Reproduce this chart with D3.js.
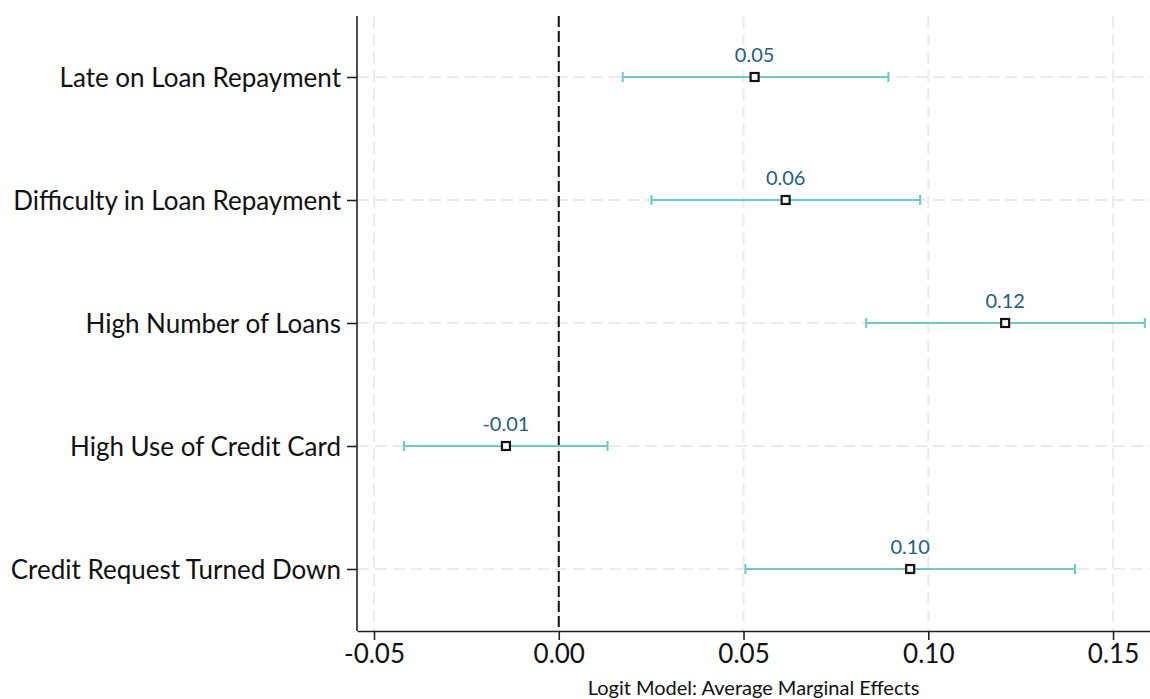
<!DOCTYPE html>
<html>
<head>
<meta charset="utf-8">
<script src="https://cdn.jsdelivr.net/npm/d3@7"></script>
<style>
  body { margin: 0; background: #fff; }
  svg { font-family: Lato, "Open Sans", sans-serif; }
</style>
</head>
<body>
<script>
// data
var categories = ["Late on Loan Repayment", "Difficulty in Loan Repayment", "High Number of Loans",
                  "High Use of Credit Card", "Credit Request Turned Down"];
var estimates = [0.053, 0.0614, 0.1208, -0.0143, 0.0951];
var lower = [0.0173, 0.0251, 0.0832, -0.0419, 0.0505];
var upper = [0.0892, 0.0978, 0.1586, 0.0132, 0.1397];
var labels = ["0.05", "0.06", "0.12", "-0.01", "0.10"];
var xTicks = [-0.05, 0, 0.05, 0.10, 0.15];

var w = 1150, h = 699;
var pLeft = 357, pRight = 1150, pTop = 16, pBottom = 631;

var svg = d3.select("body").append("svg")
    .attr("width", w)
    .attr("height", h);

var x = d3.scaleLinear().domain([-0.0546, 0.16]).range([pLeft, pRight]);
var y = d3.scalePoint().domain(categories).range([77, 569]);

// gridlines
svg.selectAll(".vgrid").data(xTicks).enter().append("line")
    .attr("x1", function(d){ return x(d) }).attr("x2", function(d){ return x(d) })
    .attr("y1", pTop).attr("y2", pBottom)
    .attr("stroke", "#ebebeb").attr("stroke-width", 2)
    .attr("stroke-dasharray", "12,6");

svg.selectAll(".hgrid").data(categories).enter().append("line")
    .attr("x1", pLeft).attr("x2", pRight)
    .attr("y1", function(d){ return y(d) }).attr("y2", function(d){ return y(d) })
    .attr("stroke", "#ebebeb").attr("stroke-width", 2)
    .attr("stroke-dasharray", "12,6");

// zero line
svg.append("line")
    .attr("x1", x(0)).attr("x2", x(0))
    .attr("y1", pTop).attr("y2", pBottom)
    .attr("stroke", "#111").attr("stroke-width", 2)
    .attr("stroke-dasharray", "11,4");

// axes
var fmt = function(d){ return d3.format(".2f")(d).replace("−", "-") };
var xAxis = svg.append("g")
    .attr("transform", "translate(0," + pBottom + ")")
    .call(d3.axisBottom(x).tickValues(xTicks).tickFormat(fmt).tickSize(9).tickSizeOuter(0));
var yAxis = svg.append("g")
    .attr("transform", "translate(" + pLeft + ",0)")
    .call(d3.axisLeft(y).tickSize(10).tickSizeOuter(0));

[xAxis, yAxis].forEach(function(g){
  g.select(".domain").attr("stroke", "#222").attr("stroke-width", 1.6);
  g.selectAll(".tick line").attr("stroke", "#222").attr("stroke-width", 1.6);
  g.selectAll("text").attr("fill", "#111").attr("font-size", "26px")
    .attr("font-family", "Lato, 'Open Sans', sans-serif");
});
yAxis.select(".domain").attr("d", "M0," + pTop + "V" + pBottom);
xAxis.selectAll("text").attr("y", 14).attr("dy", "0.71em");
yAxis.selectAll("text").attr("x", -16).attr("dy", "0.35em");

// confidence intervals
var rows = categories.map(function(c, i){
  return { c: c, est: estimates[i], lo: lower[i], hi: upper[i], lab: labels[i] };
});
var ciColor = "#6ccac4";

svg.selectAll(".ci").data(rows).enter().append("line")
    .attr("x1", function(d){ return x(d.lo) }).attr("x2", function(d){ return x(d.hi) })
    .attr("y1", function(d){ return y(d.c) }).attr("y2", function(d){ return y(d.c) })
    .attr("stroke", ciColor).attr("stroke-width", 2.2);

svg.selectAll(".capL").data(rows).enter().append("line")
    .attr("x1", function(d){ return x(d.lo) }).attr("x2", function(d){ return x(d.lo) })
    .attr("y1", function(d){ return y(d.c) - 5 }).attr("y2", function(d){ return y(d.c) + 5 })
    .attr("stroke", ciColor).attr("stroke-width", 2);

svg.selectAll(".capR").data(rows).enter().append("line")
    .attr("x1", function(d){ return x(d.hi) }).attr("x2", function(d){ return x(d.hi) })
    .attr("y1", function(d){ return y(d.c) - 5 }).attr("y2", function(d){ return y(d.c) + 5 })
    .attr("stroke", ciColor).attr("stroke-width", 2);

// point estimates
svg.selectAll(".pt").data(rows).enter().append("rect")
    .attr("x", function(d){ return x(d.est) - 4 })
    .attr("y", function(d){ return y(d.c) - 4 })
    .attr("width", 8).attr("height", 8)
    .attr("fill", "#fff").attr("stroke", "#111").attr("stroke-width", 2.2);

svg.selectAll(".lab").data(rows).enter().append("text")
    .text(function(d){ return d.lab })
    .attr("x", function(d){ return x(d.est) })
    .attr("y", function(d){ return y(d.c) - 15 })
    .attr("text-anchor", "middle")
    .attr("font-size", "20px")
    .attr("fill", "#1d5f7e");

// axis title
svg.append("text")
    .text("Logit Model: Average Marginal Effects")
    .attr("x", (pLeft + pRight) / 2)
    .attr("y", 695)
    .attr("text-anchor", "middle")
    .attr("font-size", "20px")
    .attr("fill", "#111");
</script>
</body>
</html>
